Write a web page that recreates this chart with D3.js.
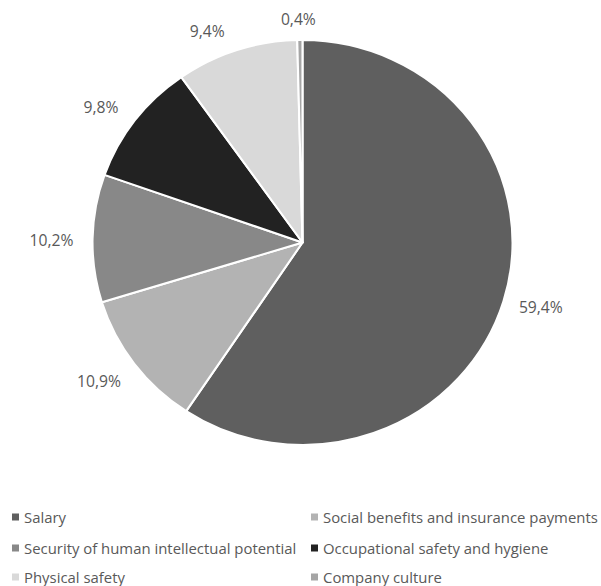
<!DOCTYPE html>
<html><head><meta charset="utf-8">
<script src="https://cdn.jsdelivr.net/npm/d3@7"></script>
<style>body{margin:0;background:#fff}svg{display:block}</style>
</head><body>
<svg id="c" width="601" height="586"></svg>
<script>
const categories = ["Salary","Social benefits and insurance payments","Security of human intellectual potential","Occupational safety and hygiene","Physical safety","Company culture"];
const values = [59.4, 10.9, 10.2, 9.8, 9.4, 0.4];
const valueLabels = ["59,4%","10,9%","10,2%","9,8%","9,4%","0,4%"];
const colors = ["#5f5f5f","#b3b3b3","#888888","#222222","#d9d9d9","#a5a5a5"];

const svg = d3.select("#c");
const cx = 302.5, cy = 242.5, ry = 202.5, rx = 210;
const font = "'Open Sans', sans-serif";

// fit font sizes so texts match the reference widths
function measure(t) {
  const p = svg.append("text").attr("font-family", font).attr("font-size", 14).text(t);
  const w = p.node().getComputedTextLength();
  p.remove();
  return w;
}
const fs = Math.max(10, Math.min(18, 14 * 279 / measure(categories[2]), 14 * 275 / measure(categories[1])));
const lfs = Math.max(10, Math.min(18, 14 * 44 / measure(valueLabels[0])));

const pie = d3.pie().sort(null).value(d => d)(values);
const arc = d3.arc().innerRadius(0).outerRadius(ry);

const g = svg.append("g").attr("transform", `translate(${cx},${cy}) scale(${rx/ry},1)`);
g.selectAll("path").data(pie).join("path")
  .attr("d", arc)
  .attr("fill", (d,i) => colors[i])
  .attr("stroke", "#fff").attr("stroke-width", 2).attr("stroke-linejoin","round");

// data labels around an elliptical label ring
const labelRx = 249, labelRy = 224;
const nudge = [[0,0],[-4,4],[-2,2],[-3,0],[-17,1],[-1,0]];
svg.append("g").selectAll("text").data(pie).join("text")
  .attr("x", (d,i) => cx + Math.sin((d.startAngle+d.endAngle)/2)*labelRx + nudge[i][0])
  .attr("y", (d,i) => cy - Math.cos((d.startAngle+d.endAngle)/2)*labelRy + nudge[i][1])
  .attr("text-anchor","middle").attr("dominant-baseline","central")
  .attr("font-family", font).attr("font-size", lfs).attr("fill","#595959")
  .text((d,i) => valueLabels[i]);

// legend
const colX = [12, 311], rowY = [517, 548, 577];
const leg = svg.append("g").selectAll("g").data(categories).join("g")
  .attr("transform", (d,i) => `translate(${colX[i%2]},${rowY[Math.floor(i/2)]})`);
leg.append("rect").attr("x",0).attr("y",-3.5).attr("width",7).attr("height",7)
  .attr("fill", (d,i) => colors[i]);
leg.append("text").attr("x",12).attr("y",0).attr("dominant-baseline","central")
  .attr("font-family", font).attr("font-size", fs).attr("fill","#595959")
  .text(d => d);
</script>
</body></html>
